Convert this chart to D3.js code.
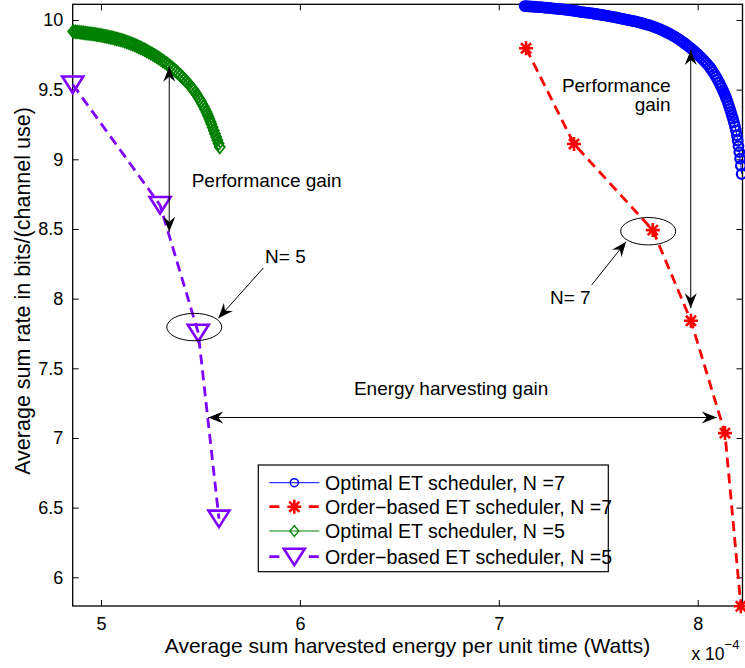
<!DOCTYPE html>
<html><head><meta charset="utf-8">
<script src="https://cdn.jsdelivr.net/npm/d3@7"></script>
<style>body{margin:0;background:#fff}</style>
</head><body>
<svg id="c" width="745" height="668"></svg>
<script>
// ---------- data (x in units of 1e-4 W) ----------
const xTicks = [5, 6, 7, 8];
const yTicks = [6, 6.5, 7, 7.5, 8, 8.5, 9, 9.5, 10];
const seriesNames = ["Optimal ET scheduler, N =7", "Order\u2212based ET scheduler, N =7",
                     "Optimal ET scheduler, N =5", "Order\u2212based ET scheduler, N =5"];
const seriesColors = ["#0000ff", "#ff0000", "#008000", "#7f00ff"];

const optN7_x = [7.13,7.14,7.15,7.16,7.17,7.18,7.19,7.20,7.21,7.22,7.23,7.24,7.25,7.26,7.27,7.28,7.29,7.30,7.31,7.32,7.33,7.34,7.35,7.36,7.37,7.38,7.39,7.40,7.41,7.42,7.43,7.44,7.45,7.46,7.47,7.48,7.49,7.50,7.51,7.52,7.53,7.54,7.55,7.56,7.57,7.58,7.59,7.60,7.61,7.62,7.63,7.64,7.65,7.66,7.67,7.68,7.69,7.70,7.71,7.72,7.73,7.74,7.75,7.76,7.77,7.78,7.79,7.80,7.81,7.82,7.83,7.84,7.85,7.86,7.87,7.88,7.89,7.90,7.91,7.92,7.93,7.94,7.95,7.96,7.97,7.98,7.99,8.00,8.01,8.02,8.03,8.04,8.05,8.06,8.068,8.076,8.084,8.092,8.100,8.108,8.115,8.121,8.127,8.132,8.137,8.142,8.147,8.152,8.157,8.162,8.167,8.172,8.177,8.182,8.187,8.192,8.197,8.201,8.205,8.209,8.213,8.217,8.221];
const optN7_y = [10.100,10.099,10.098,10.097,10.096,10.095,10.094,10.093,10.092,10.091,10.089,10.088,10.087,10.085,10.084,10.082,10.081,10.079,10.078,10.076,10.074,10.073,10.071,10.069,10.067,10.065,10.063,10.061,10.059,10.057,10.055,10.053,10.051,10.049,10.047,10.045,10.043,10.040,10.038,10.036,10.033,10.031,10.028,10.026,10.023,10.021,10.018,10.015,10.012,10.009,10.006,10.003,10.000,9.997,9.994,9.991,9.988,9.985,9.981,9.977,9.973,9.969,9.965,9.961,9.956,9.951,9.946,9.940,9.934,9.928,9.921,9.914,9.907,9.900,9.892,9.884,9.875,9.866,9.857,9.847,9.837,9.826,9.815,9.804,9.792,9.780,9.767,9.754,9.740,9.726,9.711,9.696,9.680,9.663,9.647,9.630,9.612,9.593,9.573,9.552,9.531,9.513,9.495,9.479,9.462,9.444,9.425,9.405,9.384,9.362,9.339,9.315,9.292,9.266,9.238,9.207,9.172,9.135,9.095,9.052,9.005,8.955,8.895];

const ordN7_x = [7.137, 7.378, 7.774, 7.966, 8.137, 8.217];
const ordN7_y = [9.797, 9.110, 8.492, 7.841, 7.035, 5.792];

const optN5_x = [4.86,4.87,4.88,4.89,4.90,4.91,4.92,4.93,4.94,4.95,4.96,4.97,4.98,4.99,5.00,5.01,5.02,5.03,5.04,5.05,5.06,5.07,5.08,5.09,5.10,5.11,5.12,5.13,5.14,5.15,5.16,5.17,5.18,5.19,5.20,5.21,5.22,5.23,5.24,5.25,5.26,5.27,5.28,5.29,5.30,5.31,5.32,5.33,5.34,5.35,5.36,5.37,5.38,5.39,5.40,5.41,5.42,5.43,5.44,5.45,5.46,5.467,5.474,5.481,5.488,5.495,5.502,5.509,5.516,5.523,5.530,5.535,5.540,5.545,5.550,5.555,5.561,5.567,5.573,5.579,5.585,5.591,5.597];
const optN5_y = [9.917,9.916,9.914,9.913,9.911,9.909,9.907,9.905,9.903,9.901,9.899,9.897,9.895,9.892,9.890,9.887,9.884,9.881,9.878,9.875,9.872,9.868,9.864,9.860,9.856,9.852,9.847,9.842,9.837,9.832,9.826,9.820,9.814,9.807,9.800,9.793,9.786,9.778,9.770,9.762,9.754,9.746,9.737,9.728,9.718,9.708,9.698,9.688,9.677,9.666,9.654,9.642,9.629,9.616,9.602,9.588,9.573,9.558,9.542,9.525,9.508,9.494,9.480,9.465,9.449,9.433,9.416,9.398,9.379,9.360,9.340,9.324,9.307,9.290,9.272,9.253,9.230,9.207,9.184,9.161,9.137,9.113,9.088];

const ordN5_x = [4.858, 5.297, 5.489, 5.593];
const ordN5_y = [9.537, 8.672, 7.755, 6.421];

// ---------- scales ----------
const FONT = '"Liberation Sans", Arial, Helvetica, sans-serif';
const L = 72.7, R = 742.5, T = 4.3, B = 606;
const x = d3.scaleLinear().domain([4.8577, 8.2252]).range([L, R]);
const y = d3.scaleLinear().domain([5.794, 10.1127]).range([B, T]);
const svg = d3.select("#c");

// ---------- axes ----------
function styleAxis(g) {
  g.select(".domain").remove();
  g.selectAll("line").attr("stroke", "#000").attr("stroke-width", 1);
  g.selectAll("text").attr("font-family", FONT).attr("font-size", 18).attr("fill", "#000");
}
svg.append("g").attr("transform", `translate(0,${B})`)
  .call(d3.axisBottom(x).tickValues(xTicks).tickFormat(d => String(d)).tickSizeInner(-6).tickSizeOuter(0).tickPadding(11))
  .call(styleAxis);
svg.append("g").attr("transform", `translate(0,${T})`)
  .call(d3.axisTop(x).tickValues(xTicks).tickFormat("").tickSizeInner(-6).tickSizeOuter(0))
  .call(styleAxis);
svg.append("g").attr("transform", `translate(${L},0)`)
  .call(d3.axisLeft(y).tickValues(yTicks).tickFormat(d => String(d)).tickSizeInner(-6).tickSizeOuter(0).tickPadding(9.5))
  .call(styleAxis);
svg.append("g").attr("transform", `translate(${R},0)`)
  .call(d3.axisRight(y).tickValues(yTicks).tickFormat("").tickSizeInner(-6).tickSizeOuter(0))
  .call(styleAxis);
svg.append("rect").attr("x", L).attr("y", T).attr("width", R - L).attr("height", B - T)
  .attr("fill", "none").attr("stroke", "#000").attr("stroke-width", 1.3);

// axis labels
svg.append("text").attr("x", (L + R) / 2).attr("y", 652.5).attr("text-anchor", "middle")
  .attr("font-family", FONT).attr("font-size", 21).text("Average sum harvested energy per unit time (Watts)");
svg.append("text").attr("transform", `translate(29.5,291) rotate(-90)`).attr("text-anchor", "middle")
  .attr("font-family", FONT).attr("font-size", 21.5).text("Average sum rate in bits/(channel use)");
const sc = svg.append("text").attr("x", 691.5).attr("y", 660).attr("font-family", FONT).attr("font-size", 17.5);
sc.append("tspan").text("x 10");
sc.append("tspan").attr("dy", -11).attr("font-size", 13).text("\u22124");

// ---------- markers ----------
function marker(g, kind, cx, cy, color, legend) {
  if (kind === "o") {
    g.append("circle").attr("cx", cx).attr("cy", cy).attr("r", legend ? 4 : 4.8)
      .attr("fill", "none").attr("stroke", color).attr("stroke-width", legend ? 1.5 : 2.2);
  } else if (kind === "*") {
    const s = 7, d = s * 0.72;
    g.append("path").attr("d", `M${cx - s},${cy}H${cx + s}M${cx},${cy - s}V${cy + s}M${cx - d},${cy - d}L${cx + d},${cy + d}M${cx - d},${cy + d}L${cx + d},${cy - d}`)
      .attr("stroke", color).attr("stroke-width", 2.6).attr("fill", "none");
  } else if (kind === "d") {
    const w = legend ? 4.5 : 5, h = legend ? 5.5 : 6.3;
    g.append("path").attr("d", `M${cx},${cy - h}L${cx + w},${cy}L${cx},${cy + h}L${cx - w},${cy}Z`)
      .attr("fill", "none").attr("stroke", color).attr("stroke-width", legend ? 1.2 : 1.8);
  } else if (kind === "v") {
    g.append("path").attr("d", `M${cx - 10.5},${cy - 8}L${cx + 10.5},${cy - 8}L${cx},${cy + 8.5}Z`)
      .attr("fill", "none").attr("stroke", color).attr("stroke-width", 2.6).attr("stroke-linejoin", "miter");
  }
}
const lineGen = d3.line().x(d => x(d[0])).y(d => y(d[1]));
const series = [
  {xs: optN7_x, ys: optN7_y, m: "o", dash: null, w: 1},
  {xs: ordN7_x, ys: ordN7_y, m: "*", dash: "10,6", w: 2.8},
  {xs: optN5_x, ys: optN5_y, m: "d", dash: null, w: 1},
  {xs: ordN5_x, ys: ordN5_y, m: "v", dash: "10,6", w: 2.8}
];
series.forEach((s, i) => {
  const pts = s.xs.map((v, k) => [v, s.ys[k]]);
  const g = svg.append("g");
  g.append("path").attr("d", lineGen(pts)).attr("fill", "none").attr("stroke", seriesColors[i])
    .attr("stroke-width", s.w).attr("stroke-dasharray", s.dash);
  pts.forEach(p => marker(g, s.m, x(p[0]), y(p[1]), seriesColors[i], false));
});

// ---------- annotations ----------
const ann = svg.append("g");
function head(tx, ty, fx, fy) {
  const dx = tx - fx, dy = ty - fy, len = Math.hypot(dx, dy), ux = dx / len, uy = dy / len;
  const Lh = 15, W = 6, N = 10;
  const bx = tx - ux * Lh, by = ty - uy * Lh, nx = tx - ux * N, ny = ty - uy * N;
  ann.append("path").attr("d", `M${tx},${ty}L${bx - uy * W},${by + ux * W}L${nx},${ny}L${bx + uy * W},${by - ux * W}Z`)
    .attr("fill", "#000").attr("stroke", "none");
}
function arrow(x1, y1, x2, y2, both) {
  const X1 = x(x1), Y1 = y(y1), X2 = x(x2), Y2 = y(y2);
  ann.append("line").attr("x1", X1).attr("y1", Y1).attr("x2", X2).attr("y2", Y2)
    .attr("stroke", "#000").attr("stroke-width", 1);
  head(X2, Y2, X1, Y1);
  if (both) head(X1, Y1, X2, Y2);
}
function label(xv, yv, txt, anchor) {
  ann.append("text").attr("x", x(xv)).attr("y", y(yv)).attr("text-anchor", anchor || "start")
    .attr("font-family", FONT).attr("font-size", 19).text(txt);
}
function ellipse(xv, yv) {
  ann.append("ellipse").attr("cx", x(xv)).attr("cy", y(yv)).attr("rx", 27.5).attr("ry", 13.7)
    .attr("fill", "none").attr("stroke", "#000").attr("stroke-width", 1);
}
// N = 5 side
arrow(5.343, 9.665, 5.343, 8.480, true);
label(5.456, 8.799, "Performance gain");
label(5.825, 8.254, "N= 5");
arrow(5.816, 8.220, 5.590, 7.859, false);
ellipse(5.469, 7.796);
// N = 7 side
arrow(7.965, 9.785, 7.965, 7.931, true);
label(7.864, 9.485, "Performance", "end");
label(7.864, 9.347, "gain", "end");
label(7.257, 7.962, "N= 7");
arrow(7.467, 8.098, 7.640, 8.409, false);
ellipse(7.751, 8.484);
// energy harvesting gain
label(6.76, 7.308, "Energy harvesting gain", "middle");
arrow(5.539, 7.147, 8.096, 7.147, true);

// ---------- legend ----------
const lg = svg.append("g");
lg.append("rect").attr("x", 258.3).attr("y", 465).attr("width", 350).attr("height", 106.7)
  .attr("fill", "#fff").attr("stroke", "#000").attr("stroke-width", 1.2);
const rowY = [482.7, 506.7, 531, 556.7];
series.forEach((s, i) => {
  const yy = rowY[i];
  lg.append("line").attr("x1", 269.3).attr("x2", 319.3).attr("y1", yy).attr("y2", yy)
    .attr("stroke", seriesColors[i]).attr("stroke-width", s.w)
    .attr("stroke-dasharray", s.dash ? "10,29.5,10" : null);
  marker(lg, s.m, 294.3, yy, seriesColors[i], true);
  lg.append("text").attr("x", 325).attr("y", yy).attr("dy", "0.35em")
    .attr("font-family", FONT).attr("font-size", 19.6).text(seriesNames[i]);
});
</script>
</body></html>
